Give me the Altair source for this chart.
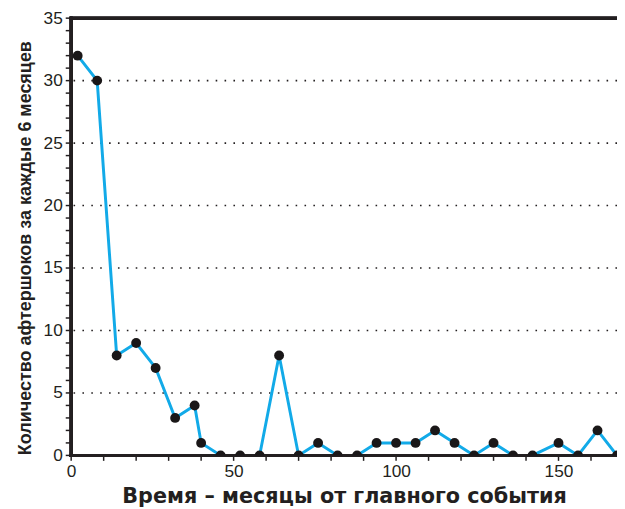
import altair as alt
import pandas as pd

months = [2, 8, 14, 20, 26, 32, 38, 40, 46, 52, 58, 64, 70, 76, 82, 88, 94, 100,
          106, 112, 118, 124, 130, 136, 142, 150, 156, 162, 168]
counts = [32, 30, 8, 9, 7, 3, 4, 1, 0, 0, 0, 8, 0, 1, 0, 0, 1, 1,
          1, 2, 1, 0, 1, 0, 0, 1, 0, 2, 0]
grid_vals = [5, 10, 15, 20, 25, 30]
y_ticks = list(range(0, 36))
x_ticks = list(range(0, 170, 10))
x_labels = [0, 50, 100, 150]
y_labels = [0, 5, 10, 15, 20, 25, 30, 35]

W, H = 553, 443
df = pd.DataFrame({"m": months, "c": counts})
grid_df = pd.DataFrame({"g": grid_vals})
yt_df = pd.DataFrame({"v": y_ticks})
xt_df = pd.DataFrame({"v": x_ticks})

FONT = "Liberation Sans"
INK = "#231f20"
xscale = alt.Scale(domain=[0, 168], nice=False, zero=False)
yscale = alt.Scale(domain=[0, 35], nice=False)

common = dict(grid=False, ticks=False, domain=False,
              labelFont=FONT, labelFontSize=17.5, labelColor=INK, labelOverlap=False,
              labelFlush=False, titleColor=INK, titleFontWeight="bold")

xaxis = alt.Axis(values=x_labels, title="Время – месяцы от главного события", labelPadding=7,
                 titleFont="DejaVu Sans", titleFontSize=21, titlePadding=6, **common)
yaxis = alt.Axis(values=y_labels, title="Количество афтершоков за каждые 6 месяцев",
                 labelPadding=9, titleFont=FONT, titleFontSize=18.2, titlePadding=9,
                 titleY=H / 2 + 11, **common)

grid = alt.Chart(grid_df).mark_rule(color=INK, strokeWidth=1.6, strokeDash=[1.6, 7.4]).encode(
    y=alt.Y("g:Q", scale=yscale, axis=yaxis)
)
ytick = alt.Chart(yt_df).mark_rule(color=INK, strokeWidth=1.5).encode(
    y=alt.Y("v:Q", scale=yscale, axis=yaxis), x=alt.value(-5.5), x2=alt.value(0)
)
xtick = alt.Chart(xt_df).mark_rule(color=INK, strokeWidth=1.5).encode(
    x=alt.X("v:Q", scale=xscale, axis=xaxis), y=alt.value(H), y2=alt.value(H + 5.5)
)
frame_left = alt.Chart(grid_df).mark_rule(color=INK, strokeWidth=3).encode(
    x=alt.value(0), y=alt.value(-1.5), y2=alt.value(H + 1.5)
)
frame_bottom = alt.Chart(grid_df).mark_rule(color=INK, strokeWidth=3).encode(
    y=alt.value(H), x=alt.value(-1.5), x2=alt.value(W)
)
frame_top = alt.Chart(grid_df).mark_rule(color=INK, strokeWidth=3).encode(
    y=alt.value(0), x=alt.value(-1.5), x2=alt.value(W)
)
line = alt.Chart(df).mark_line(color="#12aae8", strokeWidth=3, clip=True).encode(
    x=alt.X("m:Q", scale=xscale, axis=xaxis),
    y=alt.Y("c:Q", scale=yscale, axis=yaxis)
)
pts = alt.Chart(df).mark_circle(color="#1a1718", size=100, opacity=1, clip=True).encode(
    x=alt.X("m:Q", scale=xscale, axis=xaxis),
    y=alt.Y("c:Q", scale=yscale, axis=yaxis)
)

chart = alt.layer(grid, ytick, xtick, line, frame_left, frame_bottom, frame_top, pts).properties(
    width=W, height=H,
    autosize=alt.AutoSizeParams(type="none"),
    padding={"left": 64, "top": 7, "right": 0, "bottom": 51}
).configure_view(stroke=None)

chart.save("out.html", embed_options={"renderer": "svg", "actions": False})
